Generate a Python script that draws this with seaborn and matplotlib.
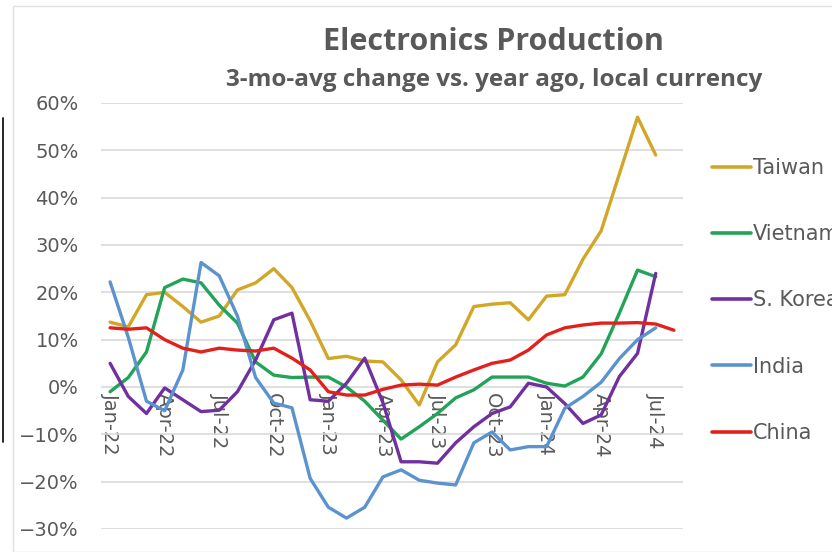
import numpy as np
import pandas as pd
import matplotlib
matplotlib.use("Agg")
import matplotlib.pyplot as plt
import seaborn as sns
from matplotlib.ticker import PercentFormatter
from matplotlib.lines import Line2D
from matplotlib.patches import Rectangle

months = pd.date_range("2022-01-01", "2024-08-01", freq="MS").strftime("%b-%y").tolist()
tick_labels = ["Jan-22", "Apr-22", "Jul-22", "Oct-22", "Jan-23", "Apr-23",
               "Jul-23", "Oct-23", "Jan-24", "Apr-24", "Jul-24"]

nan = np.nan
taiwan = [13.7, 12.7, 19.5, 20.0, 17.0, 13.7, 15.0, 20.5, 22.0, 25.0, 21.0, 14.0,
          6.0, 6.5, 5.5, 5.3, 1.5, -3.8, 5.3, 8.9, 17.0, 17.5, 17.8, 14.2,
          19.2, 19.5, 27.0, 33.0, 45.0, 57.0, 49.0, nan]
vietnam = [-1.0, 2.0, 7.4, 21.0, 22.8, 22.0, 17.3, 13.5, 5.3, 2.5, 2.0, 2.1,
           2.1, 0.0, -3.0, -7.0, -11.0, -8.4, -5.6, -2.3, -0.6, 2.1, 2.1, 2.1,
           0.8, 0.2, 2.1, 7.0, 15.6, 24.7, 23.3, nan]
s_korea = [5.0, -2.0, -5.6, -0.2, -2.7, -5.2, -4.9, -1.0, 5.7, 14.2, 15.6, -2.7,
           -3.0, 0.8, 6.1, -3.3, -15.8, -15.8, -16.1, -11.8, -8.4, -5.6, -4.2, 0.8,
           0.0, -3.5, -7.7, -5.9, 2.2, 7.1, 24.0, nan]
india = [22.2, 10.5, -3.0, -5.0, 3.6, 26.3, 23.5, 15.0, 2.0, -3.4, -4.4, -19.3,
         -25.4, -27.7, -25.4, -19.0, -17.5, -19.7, -20.3, -20.7, -11.8, -9.5, -13.3, -12.6,
         -12.6, -4.5, -2.0, 1.0, 6.0, 10.0, 12.5, nan]
china = [12.5, 12.2, 12.5, 10.0, 8.2, 7.4, 8.2, 7.8, 7.6, 8.2, 6.1, 3.6,
         -1.0, -1.7, -1.7, -0.5, 0.4, 0.6, 0.4, 2.1, 3.6, 5.0, 5.7, 7.8,
         11.0, 12.5, 13.1, 13.5, 13.5, 13.6, 13.3, 12.0]

series = {"Taiwan": taiwan, "Vietnam": vietnam, "S. Korea": s_korea,
          "India": india, "China": china}
colors = {"Taiwan": "#D2A626", "Vietnam": "#22A358", "S. Korea": "#7030A0",
          "India": "#5B93CF", "China": "#E2211C"}

df = pd.DataFrame(series)
df["idx"] = range(len(months))
long_df = df.melt(id_vars="idx", var_name="country", value_name="pct").dropna()

sns.set_theme(style="white")
plt.rcParams["font.family"] = ["Open Sans", "DejaVu Sans"]
gray = "#595959"

fig = plt.figure(figsize=(8.32, 5.52), dpi=100)
ax = fig.add_axes([101 / 832, 1 - 529 / 552, (683 - 101) / 832, (529 - 103) / 552])

sns.lineplot(data=long_df, x="idx", y="pct", hue="country",
             hue_order=list(series.keys()), palette=colors,
             linewidth=2.4, ax=ax, legend=False)

ax.set_xlim(-0.5, len(months) - 0.5)
ax.set_ylim(-30, 60)
ax.set_yticks(range(-30, 61, 10))
ax.yaxis.set_major_formatter(PercentFormatter(decimals=0))
ax.yaxis.grid(True, color="#D9D9D9", linewidth=1.2)
ax.set_axisbelow(True)

# category axis crosses at 0%
ax.spines["bottom"].set_position(("data", 0))
for s in ax.spines.values():
    s.set_visible(False)
ax.set_xticks([months.index(t) for t in tick_labels])
ax.set_xticklabels(tick_labels)
ax.tick_params(axis="x", length=0, pad=4, labelrotation=270, labelsize=14, labelcolor=gray)
ax.tick_params(axis="y", length=0, pad=16, labelsize=14, labelcolor=gray)
for lab in ax.get_xticklabels() + ax.get_yticklabels():
    lab.set_family("DejaVu Sans")
ax.set_xlabel("")
ax.set_ylabel("")

fig.text(493 / 832, 1 - 42 / 552, "Electronics Production", ha="center", va="center",
         fontsize=22, fontweight="bold", color=gray)
fig.text(494 / 832, 1 - 80 / 552, "3-mo-avg change vs. year ago, local currency",
         ha="center", va="center", fontsize=17.5, fontweight="bold", color=gray)

handles = [Line2D([0], [0], color=colors[k], linewidth=2.6) for k in series]
fig.legend(handles, list(series.keys()), loc="upper left",
           bbox_to_anchor=(712 / 832, 1 - 158 / 552), frameon=False,
           borderpad=0, borderaxespad=0,
           handlelength=1.85, handletextpad=0.1, labelspacing=2.22,
           prop={"family": "DejaVu Sans", "size": 15}, labelcolor=gray)

# screenshot frame artifacts
fig.add_artist(Rectangle((13 / 832, 0), 1, 1 - 6 / 552, transform=fig.transFigure,
                         fill=False, edgecolor="#E0E0E0", linewidth=1))
fig.add_artist(Line2D([3 / 832, 3 / 832], [1 - 118 / 552, 1 - 442 / 552],
                      transform=fig.transFigure, color="black", linewidth=1.2))

fig.savefig("out.png", dpi=100)
